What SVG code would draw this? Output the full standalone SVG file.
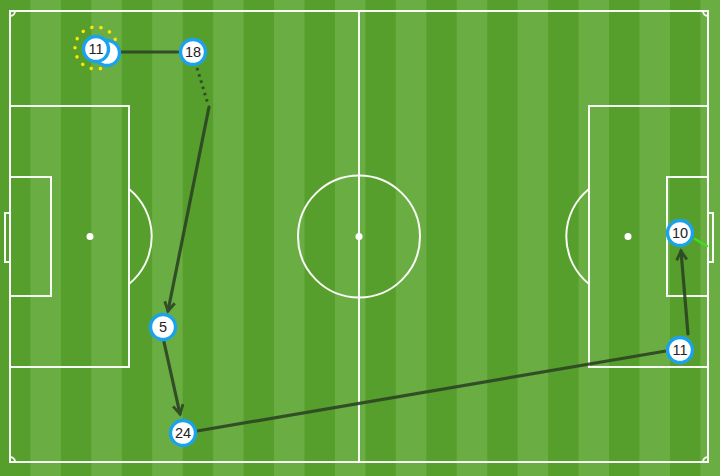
<svg xmlns="http://www.w3.org/2000/svg" width="720" height="476" viewBox="0 0 720 476">
<defs>
<style>
.dk{fill:#579f2d}
.lt{fill:#6aae43}
.ln{fill:none;stroke:#fff;stroke-width:2;opacity:0.95}
.pass{fill:none;stroke:#2c4424;stroke-width:3.2;stroke-linecap:round;opacity:0.9}
.dot{fill:none;stroke:#2c4424;stroke-width:3;stroke-dasharray:2.5 4;opacity:0.9}
.pl circle{fill:#fff;stroke:#1aa3ec;stroke-width:3.4}
.pl text{font-family:"Liberation Sans",Arial,sans-serif;font-size:14.5px;fill:#222;text-anchor:middle}
</style>
<marker id="ah" viewBox="0 0 10 10" refX="8" refY="5" markerWidth="4" markerHeight="4" orient="auto" markerUnits="strokeWidth">
<path d="M1,1 L8,5 L1,9" fill="none" stroke="#2c4424" stroke-width="2.2" stroke-linejoin="miter"/>
</marker>
</defs>
<g id="pitch">
<rect x="0" y="0" width="720" height="476" class="dk"/>
<rect x="30.45" y="0" width="30.45" height="476" class="lt"/>
<rect x="91.35" y="0" width="30.45" height="476" class="lt"/>
<rect x="152.25" y="0" width="30.45" height="476" class="lt"/>
<rect x="213.15" y="0" width="30.45" height="476" class="lt"/>
<rect x="274.05" y="0" width="30.45" height="476" class="lt"/>
<rect x="334.95" y="0" width="30.45" height="476" class="lt"/>
<rect x="395.85" y="0" width="30.45" height="476" class="lt"/>
<rect x="456.75" y="0" width="30.45" height="476" class="lt"/>
<rect x="517.65" y="0" width="30.45" height="476" class="lt"/>
<rect x="578.55" y="0" width="30.45" height="476" class="lt"/>
<rect x="639.45" y="0" width="30.45" height="476" class="lt"/>
<rect x="700.35" y="0" width="30.45" height="476" class="lt"/>
<rect x="10" y="11" width="698" height="451" class="ln"/>
<line x1="359" y1="11" x2="359" y2="462" class="ln"/>
<circle cx="359" cy="236.5" r="61" class="ln"/>
<circle cx="359" cy="236.5" r="3.5" fill="#fff"/>
<rect x="10" y="106" width="119" height="261" class="ln"/>
<rect x="10" y="177" width="41" height="119" class="ln"/>
<rect x="5" y="213" width="5" height="49" class="ln"/>
<circle cx="90" cy="236.5" r="3.5" fill="#fff"/>
<path d="M129,189 A61,61 0 0 1 129,284" class="ln"/>
<rect x="589" y="106" width="119" height="261" class="ln"/>
<rect x="667" y="177" width="41" height="119" class="ln"/>
<rect x="708" y="213" width="5" height="49" class="ln"/>
<circle cx="628" cy="236.5" r="3.5" fill="#fff"/>
<path d="M589,189 A61,61 0 0 0 589,284" class="ln"/>
<path d="M15,11 A5,5 0 0 1 10,16" class="ln"/>
<path d="M703,11 A5,5 0 0 0 708,16" class="ln"/>
<path d="M10,457 A5,5 0 0 1 15,462" class="ln"/>
<path d="M708,457 A5,5 0 0 0 703,462" class="ln"/>
</g>
<g id="connectors">
<line x1="120" y1="52" x2="180" y2="52" class="pass"/>
<line x1="197" y1="68" x2="208" y2="104" class="dot"/>
<line x1="209" y1="107" x2="168" y2="311" class="pass" marker-end="url(#ah)"/>
<line x1="164" y1="342" x2="180" y2="414" class="pass" marker-end="url(#ah)"/>
<line x1="197" y1="431" x2="666" y2="351" class="pass"/>
<line x1="688" y1="334" x2="681" y2="251" class="pass" marker-end="url(#ah)"/>
<line x1="695" y1="239" x2="707" y2="246" stroke="#3ee01c" stroke-width="2.5" stroke-linecap="round"/>
</g>
<g id="p11a" class="pl">
<circle cx="96" cy="48" r="21" style="fill:none;stroke:#ffe600;stroke-width:3.5;stroke-linecap:round;stroke-dasharray:0.1 9.3"/>
<circle cx="107" cy="53" r="12.5"/>
<circle cx="96" cy="49" r="12.5"/>
<text x="96" y="54">11</text>
</g>
<g id="p18" class="pl">
<circle cx="193" cy="52" r="12.5"/>
<text x="193" y="57">18</text>
</g>
<g id="p5" class="pl">
<circle cx="163" cy="327" r="12.5"/>
<text x="163" y="332">5</text>
</g>
<g id="p24" class="pl">
<circle cx="183" cy="433" r="12.5"/>
<text x="183" y="438">24</text>
</g>
<g id="p11b" class="pl">
<circle cx="680" cy="350" r="12.5"/>
<text x="680" y="355">11</text>
</g>
<g id="p10" class="pl">
<circle cx="680" cy="233" r="12.5"/>
<text x="680" y="238">10</text>
</g>
</svg>
